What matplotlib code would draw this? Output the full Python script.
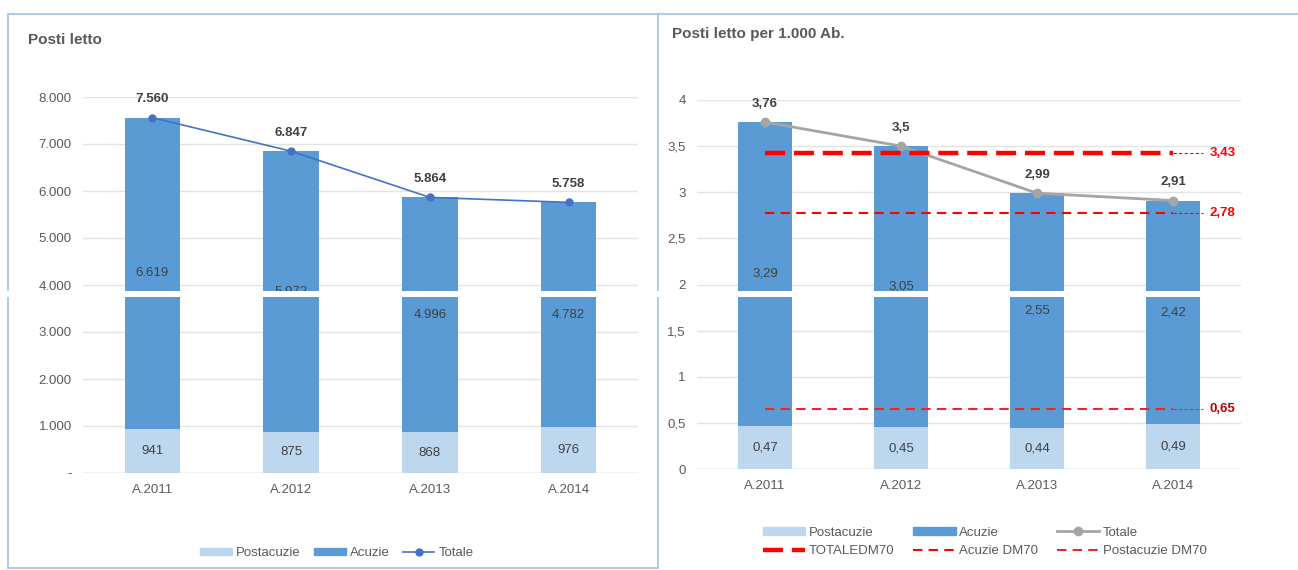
import matplotlib.pyplot as plt
from matplotlib.patches import Rectangle
from matplotlib.lines import Line2D
import numpy as np

plt.rcParams['font.family'] = ['Liberation Sans Narrow', 'Liberation Sans', 'DejaVu Sans']

# dati
anni = ['A.2011', 'A.2012', 'A.2013', 'A.2014']
postacuzie = [941, 875, 868, 976]
acuzie = [6619, 5972, 4996, 4782]
totale = [7560, 6847, 5864, 5758]

post_ab = [0.47, 0.45, 0.44, 0.49]
acu_ab = [3.29, 3.05, 2.55, 2.42]
tot_ab = [3.76, 3.5, 2.99, 2.91]
dm70 = {'TOTALEDM70': 3.43, 'Acuzie DM70': 2.78, 'Postacuzie DM70': 0.65}

C_POST = '#BDD7EE'
C_ACU = '#5B9BD5'
C_TXT = '#595959'
C_LBL = '#404040'
RED = '#FF0000'
FS = 9.5


def it_int(v):
    return f'{v:,.0f}'.replace(',', '.')


def it_dec(v):
    return f'{v:g}'.replace('.', ',')


W, H = 1298, 570
fig = plt.figure(figsize=(W / 100, H / 100), dpi=100)


def ax_rect(x0, x1, ytop, ybot):
    return [x0 / W, 1 - ybot / H, (x1 - x0) / W, (ybot - ytop) / H]


x = np.arange(len(anni))

# pannello sinistro
ax1 = fig.add_axes(ax_rect(83, 638, 97, 473))
ax1.bar(x, postacuzie, 0.4, color=C_POST, zorder=2)
ax1.bar(x, acuzie, 0.4, bottom=postacuzie, color=C_ACU, zorder=2)
ax1.plot(x, totale, color='#4472C4', lw=1.2, marker='o', ms=5, zorder=3)
for i in x:
    ax1.text(i, postacuzie[i] / 2, it_int(postacuzie[i]), ha='center', va='center',
             fontsize=FS, color=C_LBL, zorder=4)
    ax1.text(i, postacuzie[i] + acuzie[i] / 2, it_int(acuzie[i]), ha='center', va='center',
             fontsize=FS, color=C_LBL, zorder=4)
    ax1.annotate(it_int(totale[i]), (i, totale[i]), xytext=(0, 9), textcoords='offset points',
                 ha='center', va='bottom', fontsize=FS, fontweight='bold', color=C_LBL, zorder=4)
ax1.set_xlim(-0.5, 3.5)
ax1.set_ylim(0, 8000)
ax1.set_yticks(range(0, 8001, 1000))
ax1.set_yticklabels(['-'] + [it_int(v) for v in range(1000, 8001, 1000)])
ax1.set_xticks(x)
ax1.set_xticklabels(anni)

# pannello destro
ax2 = fig.add_axes(ax_rect(697, 1241, 100, 469))
ax2.bar(x, post_ab, 0.4, color=C_POST, zorder=2)
ax2.bar(x, acu_ab, 0.4, bottom=post_ab, color=C_ACU, zorder=2)
ax2.plot(x, tot_ab, color='#A5A5A5', lw=2, marker='o', ms=6, zorder=3)
for i in x:
    ax2.text(i, post_ab[i] / 2, it_dec(post_ab[i]), ha='center', va='center',
             fontsize=FS, color=C_LBL, zorder=4)
    ax2.text(i, post_ab[i] + acu_ab[i] / 2, it_dec(acu_ab[i]), ha='center', va='center',
             fontsize=FS, color=C_LBL, zorder=4)
    ax2.annotate(it_dec(tot_ab[i]), (i, tot_ab[i]), xytext=(0, 9), textcoords='offset points',
                 ha='center', va='bottom', fontsize=FS, fontweight='bold', color=C_LBL, zorder=4)

styles = {'TOTALEDM70': dict(lw=3.2, dashes=(4.5, 2), color=RED),
          'Acuzie DM70': dict(lw=1.5, dashes=(4.5, 3), color=RED),
          'Postacuzie DM70': dict(lw=1.5, dashes=(4.5, 3), color='#E8262B')}
lbl_col = {'TOTALEDM70': RED, 'Acuzie DM70': RED, 'Postacuzie DM70': '#C00000'}
for name, val in dm70.items():
    ax2.plot([0, 3], [val, val], zorder=3, clip_on=False, **styles[name])
    ax2.plot([3, 3.22], [val, val], color=styles[name]['color'], lw=0.8, dashes=(3, 2),
             zorder=3, clip_on=False)
    ax2.text(3.27, val, it_dec(val), ha='left', va='center', fontsize=FS,
             fontweight='bold', color=lbl_col[name], zorder=4, clip_on=False)

ax2.set_xlim(-0.5, 3.5)
ax2.set_ylim(0, 4)
ax2.set_yticks(np.arange(0, 4.01, 0.5))
ax2.set_yticklabels([it_dec(v) for v in np.arange(0, 4.01, 0.5)])
ax2.set_xticks(x)
ax2.set_xticklabels(anni)

for ax in (ax1, ax2):
    for s in ax.spines.values():
        s.set_visible(False)
    ax.grid(axis='y', color='#E3E3E3', lw=1, zorder=0)
    ax.set_axisbelow(True)
    ax.tick_params(length=0, labelsize=FS, colors=C_TXT, pad=8)
    ax.axhline(0, color='#D9D9D9', lw=1, zorder=1)

# titoli
fig.text(28 / W, 1 - 40 / H, 'Posti letto', fontsize=11, fontweight='bold', color=C_TXT,
         ha='left', va='center')
fig.text(672 / W, 1 - 34 / H, 'Posti letto per 1.000 Ab.', fontsize=11, fontweight='bold',
         color=C_TXT, ha='left', va='center')

# legende
h_left = [Rectangle((0, 0), 1, 1, color=C_POST), Rectangle((0, 0), 1, 1, color=C_ACU),
          Line2D([], [], color='#4472C4', lw=1.2, marker='o', ms=5)]
fig.legend(h_left, ['Postacuzie', 'Acuzie', 'Totale'], loc='center',
           bbox_to_anchor=(337 / W, 1 - 553 / H), ncol=3, frameon=False, fontsize=FS,
           labelcolor=C_TXT, handlelength=2.4, handleheight=0.5, columnspacing=1.0,
           handletextpad=0.3)

h_right = [Rectangle((0, 0), 1, 1, color=C_POST),
           Line2D([], [], **styles['TOTALEDM70']),
           Rectangle((0, 0), 1, 1, color=C_ACU),
           Line2D([], [], **styles['Acuzie DM70']),
           Line2D([], [], color='#A5A5A5', lw=2, marker='o', ms=6),
           Line2D([], [], **styles['Postacuzie DM70'])]
fig.legend(h_right, ['Postacuzie', 'TOTALEDM70', 'Acuzie', 'Acuzie DM70', 'Totale',
                     'Postacuzie DM70'], loc='center', bbox_to_anchor=(985 / W, 1 - 542 / H),
           ncol=3, frameon=False, fontsize=FS, labelcolor=C_TXT, handlelength=3.2,
           handleheight=0.5, columnspacing=1.4, handletextpad=0.3, labelspacing=0.5)

# cornici
border = '#9DC3E6'
fig.add_artist(Rectangle((8 / W, 1 - 568 / H), 650 / W, 554 / H, transform=fig.transFigure,
                         fill=False, edgecolor=border, lw=1.2))
fig.add_artist(Line2D([658 / W, 1], [1 - 14 / H, 1 - 14 / H], transform=fig.transFigure,
                      color=border, lw=1.2))

# banda bianca della scansione
fig.add_artist(Rectangle((0, 1 - 297 / H), 1, 6 / H, transform=fig.transFigure,
                         facecolor='white', edgecolor='none', zorder=10))

fig.savefig('out.png', dpi=100)
